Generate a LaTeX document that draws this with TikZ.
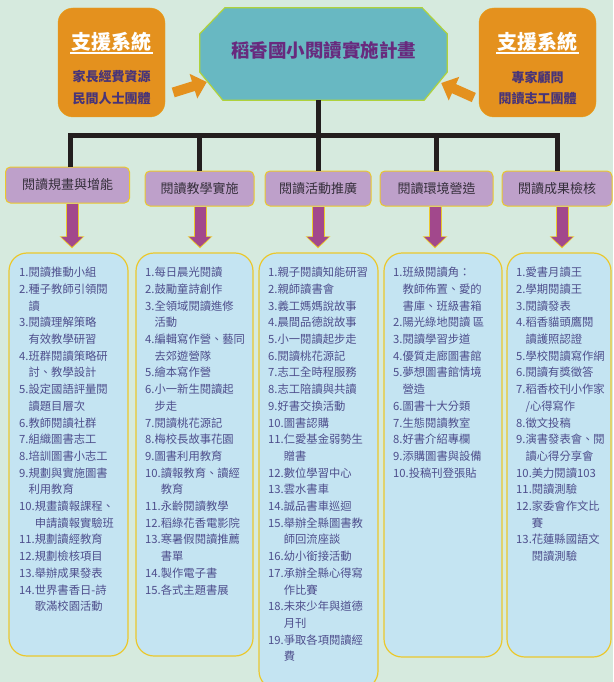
\documentclass[tikz,border=0pt]{standalone}
\usepackage{fontspec}
\newfontfamily\cjk{Noto Sans CJK TC}
\usetikzlibrary{arrows.meta}

\definecolor{bgmint}{RGB}{214,234,222}
\definecolor{suporange}{RGB}{228,145,30}
\definecolor{titleteal}{RGB}{104,184,194}
\definecolor{titleedge}{RGB}{175,210,60}
\definecolor{titleink}{RGB}{104,42,126}
\definecolor{supink}{RGB}{72,52,120}
\definecolor{catfill}{RGB}{190,160,202}
\definecolor{catink}{RGB}{52,46,58}
\definecolor{edgeyellow}{RGB}{235,200,45}
\definecolor{arrowpurple}{RGB}{162,72,140}
\definecolor{listfill}{RGB}{196,228,242}
\definecolor{listink}{RGB}{78,78,140}
\definecolor{treeblack}{RGB}{35,30,30}

\tikzset{
  titlebox/.style={minimum width=247pt, minimum height=92pt, inner sep=0pt},
  titleframe/.style={draw=titleedge, line width=1.2pt, fill=titleteal, line join=miter},
  titletext/.style={font=\cjk\bfseries\fontsize{18.5}{18.5}\selectfont, text=titleink, inner sep=0pt},
  supbox/.style={draw=suporange!85!yellow, fill=suporange, rounded corners=15pt, minimum height=109pt, inner sep=0pt},
  suphead/.style={font=\cjk\bfseries\fontsize{20}{20}\selectfont, text=white, inner sep=1pt},
  supline/.style={font=\cjk\bfseries\fontsize{13}{13}\selectfont, text=supink, inner sep=0pt},
  suparrow/.style={line width=10pt, suporange, -{Triangle[width=25pt,length=14pt]}},
  tree/.style={line width=5pt, treeblack, line join=miter},
  catbox/.style={draw=edgeyellow, line width=1pt, fill=catfill, rounded corners=5pt, inner sep=0pt,
    font=\cjk\fontsize{13}{13}\selectfont, text=catink},
  catarrowedge/.style={line width=13pt, edgeyellow, -{Triangle[width=24pt,length=12pt]}, shorten >=4pt},
  catarrow/.style={line width=11pt, arrowpurple, -{Triangle[width=21pt,length=10pt]}, shorten >=5.5pt},
  listbox/.style={draw=edgeyellow, line width=1.2pt, fill=listfill, rounded corners=18pt, inner sep=0pt},
  listtext/.style={anchor=north west, inner sep=0pt, align=left,
    font=\cjk\fontsize{11.3}{16.7}\selectfont, text=listink}
}

\begin{document}
\begin{tikzpicture}[x=1pt,y=1pt,yscale=-1,xscale=1]
%Shape: Background
\fill[bgmint] (0,0) rectangle (613,682);
\useasboundingbox (0,0) rectangle (613,682);

%Shape: Octagon
\node[titlebox] (title) at (323.5,54) {};
\draw[titleframe] ([shift={(0,26)}]title.north west) -- ([shift={(25,0)}]title.north west)
  -- ([shift={(-25,0)}]title.north east) -- ([shift={(0,26)}]title.north east)
  -- ([shift={(0,-28)}]title.south east) -- ([shift={(-23,0)}]title.south east)
  -- ([shift={(23,0)}]title.south west) -- ([shift={(0,-28)}]title.south west) -- cycle;
% Text Node
\node[titletext] (titletxt) at (323.5,50) {稻香國小閱讀實施計畫};

%Shape: Rounded Rect (support, left and right)
\node[supbox, minimum width=107pt] (supL) at (111.5,62.5) {};
\node[supbox, minimum width=117pt] (supR) at (537.5,62.5) {};
% Text Node
\node[suphead] (supLhead) at (111.5,42) {支援系統};
\node[supline] (supL1) at (111.5,77) {家長經費資源};
\node[supline] (supL2) at (111.5,99) {民間人士團體};
\node[suphead] (supRhead) at (537.5,42) {支援系統};
\node[supline] (supR1) at (537.5,77) {專家顧問};
\node[supline] (supR2) at (537.5,99) {閱讀志工團體};
\draw[white, line width=1.6pt] (supLhead.south west) -- (supLhead.south east);
\draw[white, line width=1.6pt] (supRhead.south west) -- (supRhead.south east);

%Straight Lines (support arrows)
\draw[suparrow] ([shift={(8,30)}]supL.east) -- ([shift={(7,28)}]title.west);
\draw[suparrow] ([shift={(-5,35)}]supR.west) -- ([shift={(-6,29)}]title.east);

%Shape: Category boxes
\node[catbox, minimum width=124pt, minimum height=36pt] (cat1) at (67.5,185) {閱讀規畫與增能};
\node[catbox, minimum width=109pt, minimum height=35pt] (cat2) at (199.5,188.5) {閱讀教學實施};
\node[catbox, minimum width=106pt, minimum height=35pt] (cat3) at (318,188.5) {閱讀活動推廣};
\node[catbox, minimum width=113pt, minimum height=35pt] (cat4) at (436.5,188.5) {閱讀環境營造};
\node[catbox, minimum width=110pt, minimum height=35pt] (cat5) at (557,188.5) {閱讀成果檢核};

%Straight Lines (tree)
\coordinate (bus) at (0,135.5);
\draw[tree] (title.south -| cat3.north) -- (cat3.north);
\draw[tree] ([xshift=3pt]cat1.north) -- ([xshift=3pt]cat1.north |- bus) -- (cat5.north |- bus) -- (cat5.north);
\draw[tree] (cat2.north) -- (cat2.north |- bus);
\draw[tree] (cat4.north) -- (cat4.north |- bus);

%Shape: List boxes
\node[listbox, minimum width=119pt, minimum height=403pt] (list1) at (68.5,454.5) {};
\node[listbox, minimum width=117pt, minimum height=403pt] (list2) at (194.5,454.5) {};
\node[listbox, minimum width=119pt, minimum height=436pt] (list3) at (318.5,471) {};
\node[listbox, minimum width=118pt, minimum height=404pt] (list4) at (443,455) {};
\node[listbox, minimum width=104pt, minimum height=404pt] (list5) at (559,455) {};

%Straight Lines (down arrows)
\foreach \i/\dx in {1/4.5,2/0.5,3/0,4/-1.5,5/5} {
  \draw[catarrowedge] ([xshift=\dx pt]cat\i.south) -- ([xshift=\dx pt]cat\i.south |- list\i.north);
  \draw[catarrow] ([xshift=\dx pt]cat\i.south) -- ([xshift=\dx pt]cat\i.south |- list\i.north);
}

% Text Node
\node[listtext] (txt1) at (19,267) {1.閱讀推動小組\\
2.種子教師引領閱\\
\hphantom{2.}讀\\
3.閱讀理解策略\\
\hphantom{3.}有效教學研習\\
4.班群閱讀策略研\\
\hphantom{4.}討、教學設計\\
5.設定國語評量閱\\
\hphantom{5.}讀題目層次\\
6.教師閱讀社群\\
7.組織圖書志工\\
8.培訓圖書小志工\\
9.規劃與實施圖書\\
\hphantom{9.}利用教育\\
10.規畫讀報課程、\\
\hphantom{10.}申請讀報實驗班\\
11.規劃讀經教育\\
12.規劃檢核項目\\
13.舉辦成果發表\\
14.世界書香日-詩\\
\hphantom{14.}歌滿校園活動};
% Text Node
\node[listtext] (txt2) at (145,267) {1.每日晨光閱讀\\
2.鼓勵童詩創作\\
3.全領域閱讀進修\\
\hphantom{3.}活動\\
4.編輯寫作營、藝同\\
\hphantom{4.}去郊遊營隊\\
5.繪本寫作營\\
6.小一新生閱讀起\\
\hphantom{6.}步走\\
7.閱讀桃花源記\\
8.梅校長故事花園\\
9.圖書利用教育\\
10.讀報教育、讀經\\
\hphantom{10.}教育\\
11.永齡閱讀教學\\
12.稻綠花香電影院\\
13.寒暑假閱讀推薦\\
\hphantom{13.}書單\\
14.製作電子書\\
15.各式主題書展};
% Text Node
\node[listtext] (txt3) at (268,267) {1.親子閱讀知能研習\\
2.親師讀書會\\
3.義工媽媽說故事\\
4.晨間品德說故事\\
5.小一閱讀起步走\\
6.閱讀桃花源記\\
7.志工全時程服務\\
8.志工陪讀與共讀\\
9.好書交換活動\\
10.圖書認購\\
11.仁愛基金弱勢生\\
\hphantom{11.}贈書\\
12.數位學習中心\\
13.雲水書車\\
14.誠品書車巡迴\\
15.舉辦全縣圖書教\\
\hphantom{15.}師回流座談\\
16.幼小銜接活動\\
17.承辦全縣心得寫\\
\hphantom{17.}作比賽\\
18.未來少年與道德\\
\hphantom{18.}月刊\\
19.爭取各項閱讀經\\
\hphantom{19.}費};
% Text Node
\node[listtext] (txt4) at (393,267) {1.班級閱讀角：\\
\hphantom{1.}教師佈置、愛的\\
\hphantom{1.}書庫、班級書箱\\
2.陽光綠地閱讀 區\\
3.閱讀學習步道\\
4.優質走廊圖書館\\
5.夢想圖書館情境\\
\hphantom{5.}營造\\
6.圖書十大分類\\
7.生態閱讀教室\\
8.好書介紹專欄\\
9.添購圖書與設備\\
10.投稿刊登張貼};
% Text Node
\node[listtext] (txt5) at (516,267) {1.愛書月讀王\\
2.學期閱讀王\\
3.閱讀發表\\
4.稻香貓頭鷹閱\\
\hphantom{4.}讀護照認證\\
5.學校閱讀寫作網\\
6.閱讀有獎徵答\\
7.稻香校刊小作家\\
\hphantom{7.}/心得寫作\\
8.徵文投稿\\
9.演書發表會、閱\\
\hphantom{9.}讀心得分享會\\
10.美力閱讀103\\
11.閱讀測驗\\
12.家委會作文比\\
\hphantom{12.}賽\\
13.花蓮縣國語文\\
\hphantom{13.}閱讀測驗};

\end{tikzpicture}
\end{document}
